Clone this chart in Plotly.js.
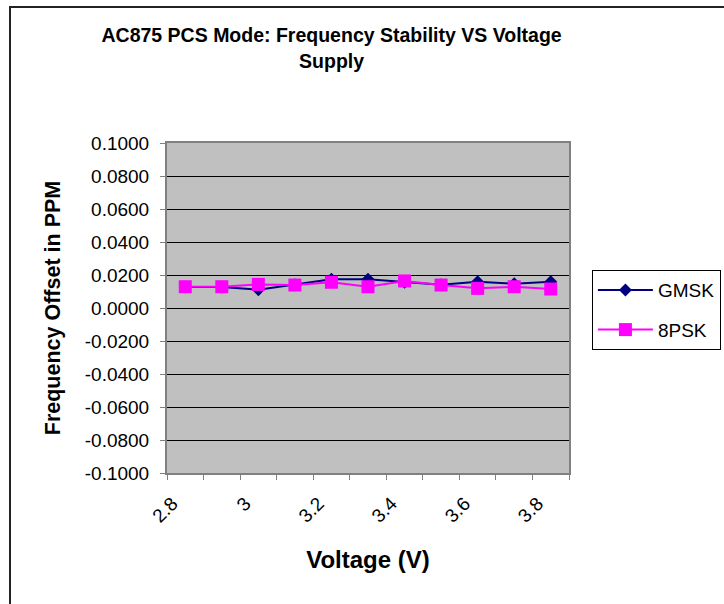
<!DOCTYPE html>
<html>
<head>
<meta charset="utf-8">
<script src="https://cdn.plot.ly/plotly-3.0.1.min.js"></script>
<style>
  html, body { margin: 0; padding: 0; background: #fff; }
  #wrap { position: relative; width: 724px; height: 604px; overflow: hidden; }
  #chart { position: absolute; left: 0; top: 0; width: 724px; height: 604px; }
  #frame { position: absolute; left: 9px; top: 6px; width: 800px; height: 700px;
           border-left: 2px solid #222; border-top: 2px solid #222; pointer-events: none; }
</style>
</head>
<body>
<div id="wrap">
  <div id="chart"></div>
  <div id="frame"></div>
</div>
<script>
// Data
const voltages = [2.8, 2.9, 3.0, 3.1, 3.2, 3.3, 3.4, 3.5, 3.6, 3.7, 3.8];
const gmsk = [0.0127, 0.0127, 0.0111, 0.0141, 0.0174, 0.0174, 0.0156, 0.0141, 0.0159, 0.0147, 0.0159];
const psk8 = [0.0129, 0.0129, 0.0143, 0.0139, 0.0156, 0.0129, 0.0164, 0.0139, 0.0119, 0.0129, 0.0115];
const xTickVals = [2.8, 3.0, 3.2, 3.4, 3.6, 3.8];
const xTickText = ['2.8', '3', '3.2', '3.4', '3.6', '3.8'];
const yTickVals = [-0.1, -0.08, -0.06, -0.04, -0.02, 0, 0.02, 0.04, 0.06, 0.08, 0.1];
const yTickText = ['-0.1000', '-0.0800', '-0.0600', '-0.0400', '-0.0200', '0.0000',
                   '0.0200', '0.0400', '0.0600', '0.0800', '0.1000'];

const FONT = 'Arial, "Liberation Sans", sans-serif';

const traces = [
  {
    x: voltages, y: gmsk, name: 'GMSK', type: 'scatter', mode: 'lines+markers',
    legendgroup: 'g1',
    line: { color: '#000080', width: 2 },
    marker: { symbol: 'diamond', size: 10, color: '#000080' }
  },
  {
    x: voltages, y: psk8, name: '8PSK', type: 'scatter', mode: 'lines+markers',
    legendgroup: 'g2',
    line: { color: '#FF00FF', width: 2 },
    marker: { symbol: 'square', size: 13, color: '#FF00FF' }
  }
];

const layout = {
  width: 724, height: 604,
  paper_bgcolor: '#ffffff',
  plot_bgcolor: '#C0C0C0',
  margin: { l: 167, r: 155, t: 143, b: 131, autoexpand: false },
  font: { family: FONT, color: '#000' },
  title: {
    text: '<b>AC875 PCS Mode: Frequency Stability VS Voltage<br>Supply</b>',
    font: { family: FONT, size: 19.5, color: '#000' },
    x: 0.458, xanchor: 'center', xref: 'container',
    y: 0.93, yanchor: 'top', yref: 'container'
  },
  xaxis: {
    type: 'linear',
    range: [2.75, 3.85],
    tickmode: 'array', tickvals: xTickVals, ticktext: xTickText,
    ticks: '', tickangle: -45,
    ticklabelstandoff: 10, ticklabelshift: -13,
    tickfont: { family: FONT, size: 19, color: '#000' },
    minor: { tick0: 2.75, dtick: 0.1, ticks: 'outside', ticklen: 5, tickcolor: '#808080', tickwidth: 1, showgrid: false },
    showgrid: false, zeroline: false,
    showline: true, linecolor: '#808080', linewidth: 2, mirror: true,
    title: { text: '<b>Voltage (V)</b>', font: { family: FONT, size: 24, color: '#000' }, standoff: 26 },
    automargin: false, fixedrange: true
  },
  yaxis: {
    range: [-0.1, 0.1],
    tickmode: 'array', tickvals: yTickVals, ticktext: yTickText,
    ticks: 'outside', ticklen: 5, tickcolor: '#808080', tickwidth: 1,
    ticklabelstandoff: 7,
    tickfont: { family: FONT, size: 19, color: '#000' },
    showgrid: true, gridcolor: '#000000', gridwidth: 1,
    zeroline: false,
    showline: true, linecolor: '#808080', linewidth: 2, mirror: true,
    title: { text: '<b>Frequency Offset in PPM</b>', font: { family: FONT, size: 21.5, color: '#000' }, standoff: 18 },
    automargin: false, fixedrange: true
  },
  showlegend: true,
  legend: {
    x: 1.057, xanchor: 'left', y: 0.615, yanchor: 'top',
    bgcolor: '#ffffff', bordercolor: '#000000', borderwidth: 1,
    font: { family: FONT, size: 19, color: '#000' },
    tracegroupgap: 12, itemwidth: 55
  }
};

Plotly.newPlot('chart', traces, layout, { staticPlot: true, displayModeBar: false });
</script>
</body>
</html>
